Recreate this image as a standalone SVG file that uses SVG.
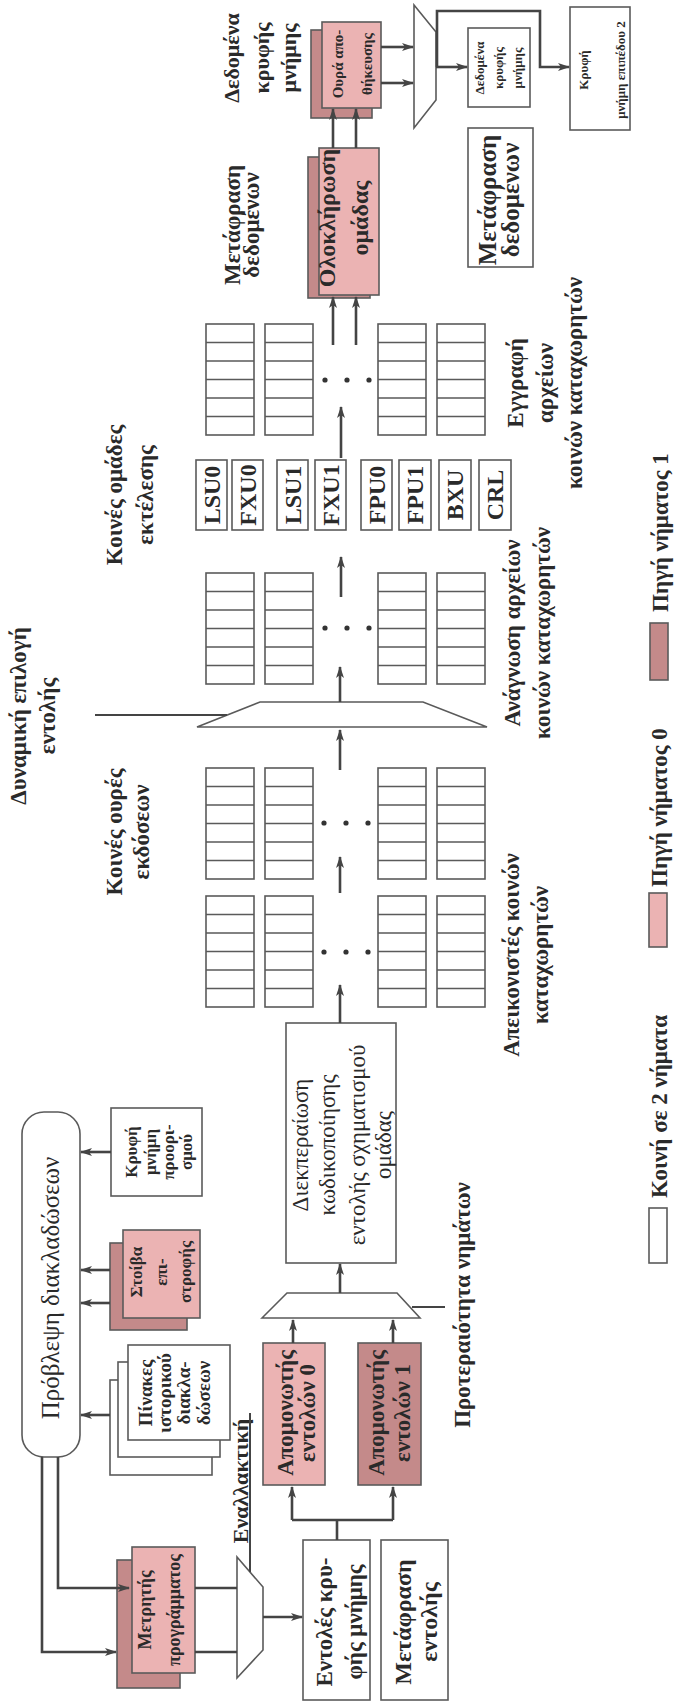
<svg xmlns="http://www.w3.org/2000/svg" xmlns:xlink="http://www.w3.org/1999/xlink" width="675" height="1704" viewBox="0 0 675 1704">
<style>
.box{fill:#ffffff;stroke:#5a5a5a;stroke-width:1.6}
.p0{fill:#ebb3b3;stroke:#5a5a5a;stroke-width:1.6}
.p1{fill:#c48a8a;stroke:#5a5a5a;stroke-width:1.6}
.mux{fill:#ffffff;stroke:#5a5a5a;stroke-width:1.6}
.ln{fill:none;stroke:#444;stroke-width:2}
.tk{fill:none;stroke:#444;stroke-width:2.6}
.ar{marker-end:url(#ah)}
.t{font-family:"Liberation Serif","DejaVu Serif",serif;font-weight:bold;fill:#2a2a2a;text-anchor:middle}
.n{font-weight:normal}
.st{text-anchor:start}
.dot{fill:#333}
</style>
<defs>
<marker id="ah" viewBox="0 0 12 8" refX="11" refY="4" markerWidth="12" markerHeight="8" orient="auto" markerUnits="userSpaceOnUse"><path d="M0,0 L12,4 L0,8 L3,4 z" fill="#444"/></marker>
<g id="rc"><rect x="0" y="0" width="48" height="111" class="box"/><path d="M0,18.5H48M0,37H48M0,55.5H48M0,74H48M0,92.5H48" fill="none" stroke="#5a5a5a" stroke-width="1.4"/></g>
</defs>
<rect width="675" height="1704" fill="#ffffff"/>

<!-- labels -->
<g id="lbl-dcache"><text class="t" font-size="22" transform="translate(232,58) rotate(-90)"><tspan x="0" y="7">Δεδομένα</tspan><tspan x="0" y="37">κρυφής</tspan><tspan x="0" y="64">μνήμης</tspan></text></g>
<g id="lbl-dtrans"><text class="t" font-size="23" transform="translate(233,225) rotate(-90)"><tspan x="0" y="7">Μετάφραση</tspan><tspan x="0" y="26">δεδομένων</tspan></text></g>
<g id="lbl-dyn"><text class="t" font-size="23" transform="translate(19,716) rotate(-90)"><tspan x="0" y="7">Δυναμική επιλογή</tspan><tspan x="0" y="36">εντολής</tspan></text></g>
<g id="lbl-iq"><text class="t" font-size="23" transform="translate(115,832) rotate(-90)"><tspan x="0" y="7">Κοινές ουρές</tspan><tspan x="0" y="34">εκδόσεων</tspan></text></g>
<g id="lbl-eu"><text class="t" font-size="23" transform="translate(115,495) rotate(-90)"><tspan x="0" y="7">Κοινές ομάδες</tspan><tspan x="0" y="38">εκτέλεσης</tspan></text></g>
<g id="lbl-read"><text class="t" font-size="23" transform="translate(513,633) rotate(-90)"><tspan x="0" y="7">Ανάγνωση αρχείων</tspan><tspan x="0" y="37">κοινών καταχωρητών</tspan></text></g>
<g id="lbl-write"><text class="t" font-size="23" transform="translate(516,383) rotate(-90)"><tspan x="0" y="7">Εγγραφή</tspan><tspan x="0" y="37">αρχείων</tspan><tspan x="0" y="66">κοινών καταχωρητών</tspan></text></g>
<g id="lbl-map"><text class="t" font-size="23" transform="translate(512,955) rotate(-90)"><tspan x="0" y="7">Απεικονιστές κοινών</tspan><tspan x="0" y="36">καταχωρητών</tspan></text></g>
<g id="lbl-prio"><text class="t" font-size="23" transform="translate(463,1305) rotate(-90)"><tspan x="0" y="7">Προτεραιότητα νημάτων</tspan></text></g>
<g id="lbl-alt"><text class="t" font-size="22" transform="translate(241,1481) rotate(-90)"><tspan x="0" y="7">Εναλλακτική</tspan></text></g>

<!-- legend -->
<g id="legend">
<rect x="650" y="623" width="18" height="57" class="p1"/>
<text class="t st" font-size="23" transform="translate(661,612) rotate(-90)" y="7">Πηγή νήματος 1</text>
<rect x="649" y="893" width="18" height="54" class="p0"/>
<text class="t st" font-size="23" transform="translate(660,887) rotate(-90)" y="7">Πηγή νήματος 0</text>
<rect x="649" y="1208" width="18" height="55" class="box"/>
<text class="t st" font-size="23" transform="translate(660,1198) rotate(-90)" y="7">Κοινή σε 2 νήματα</text>
</g>

<!-- data side -->
<g id="storeq">
<rect x="311" y="30" width="61" height="88" class="p1"/>
<rect x="322" y="22" width="59" height="86" class="p0"/>
<text class="t" font-size="15" transform="translate(338,64) rotate(-90)"><tspan x="0" y="4.5">Ουρά απο-</tspan><tspan x="0" y="33.5">θήκευσης</tspan></text>
</g>
<g id="dmux"><polygon points="414,5 436,32 436,100 414,128" class="mux"/></g>
<g id="dcache">
<rect x="468" y="28" width="62" height="79" class="box"/>
<text class="t" font-size="13" transform="translate(480,68) rotate(-90)"><tspan x="0" y="4">Δεδομένα</tspan><tspan x="0" y="23">κρυφής</tspan><tspan x="0" y="42">μνήμης</tspan></text>
</g>
<g id="l2">
<rect x="570" y="7" width="60" height="123" class="box"/>
<text class="t" font-size="13" transform="translate(584,70) rotate(-90)"><tspan x="0" y="4">Κρυφή</tspan><tspan x="0" y="41">μνήμη επιπέδου 2</tspan></text>
</g>
<g id="dtrans">
<rect x="468" y="128" width="65" height="139" class="box"/>
<text class="t" font-size="25" transform="translate(488,200) rotate(-90)"><tspan x="0" y="7.5">Μετάφραση</tspan><tspan x="0" y="30.5">δεδομένων</tspan></text>
</g>
<g id="gcomp">
<rect x="308" y="157" width="62" height="141" class="p1"/>
<rect x="319" y="148" width="60" height="147" class="p0"/>
<text class="t" font-size="24" transform="translate(328,218) rotate(-90)"><tspan x="0" y="7">Ολοκλήρωση</tspan><tspan x="0" y="40">ομάδας</tspan></text>
</g>

<!-- register files -->
<g id="reg-write"><use xlink:href="#rc" x="206" y="324"/><use xlink:href="#rc" x="265" y="324"/><use xlink:href="#rc" x="378" y="324"/><use xlink:href="#rc" x="437" y="324"/>
<circle cx="325" cy="380" r="2.6" class="dot"/><circle cx="347" cy="380" r="2.6" class="dot"/><circle cx="369" cy="380" r="2.6" class="dot"/></g>
<g id="reg-read"><use xlink:href="#rc" x="206" y="573"/><use xlink:href="#rc" x="265" y="573"/><use xlink:href="#rc" x="378" y="573"/><use xlink:href="#rc" x="437" y="573"/>
<circle cx="325" cy="628" r="2.6" class="dot"/><circle cx="347" cy="628" r="2.6" class="dot"/><circle cx="369" cy="628" r="2.6" class="dot"/></g>
<g id="issue-q"><use xlink:href="#rc" x="206" y="768"/><use xlink:href="#rc" x="265" y="768"/><use xlink:href="#rc" x="378" y="768"/><use xlink:href="#rc" x="437" y="768"/>
<circle cx="324" cy="823" r="2.6" class="dot"/><circle cx="346" cy="823" r="2.6" class="dot"/><circle cx="368" cy="823" r="2.6" class="dot"/></g>
<g id="mappers"><use xlink:href="#rc" x="206" y="896"/><use xlink:href="#rc" x="265" y="896"/><use xlink:href="#rc" x="378" y="896"/><use xlink:href="#rc" x="437" y="896"/>
<circle cx="324" cy="952" r="2.6" class="dot"/><circle cx="346" cy="952" r="2.6" class="dot"/><circle cx="368" cy="952" r="2.6" class="dot"/></g>

<!-- execution units -->
<g id="eu">
<rect x="196" y="460" width="31" height="70" class="box"/><text class="t" font-size="24" transform="translate(211.5,495) rotate(-90)" y="8">LSU0</text>
<rect x="232" y="460" width="31" height="70" class="box"/><text class="t" font-size="24" transform="translate(247.5,495) rotate(-90)" y="8">FXU0</text>
<rect x="277" y="460" width="31" height="70" class="box"/><text class="t" font-size="24" transform="translate(292.5,495) rotate(-90)" y="8">LSU1</text>
<rect x="315" y="460" width="31" height="70" class="box"/><text class="t" font-size="24" transform="translate(330.5,495) rotate(-90)" y="8">FXU1</text>
<rect x="361" y="460" width="31" height="70" class="box"/><text class="t" font-size="24" transform="translate(376.5,495) rotate(-90)" y="8">FPU0</text>
<rect x="399" y="460" width="32" height="70" class="box"/><text class="t" font-size="24" transform="translate(415,495) rotate(-90)" y="8">FPU1</text>
<rect x="439" y="460" width="32" height="70" class="box"/><text class="t" font-size="24" transform="translate(455,495) rotate(-90)" y="8">BXU</text>
<rect x="479" y="460" width="32" height="70" class="box"/><text class="t" font-size="24" transform="translate(495,495) rotate(-90)" y="8">CRL</text>
</g>

<g id="dynmux"><polygon points="197,727 260,702 423,702 487,727" class="mux"/></g>

<g id="gform">
<rect x="286" y="1023" width="110" height="240" class="box"/>
<text class="t n" font-size="23" transform="translate(301,1145) rotate(-90)"><tspan x="0" y="7">Διεκπεραίωση</tspan><tspan x="0" y="34">κωδικοποίησης</tspan><tspan x="0" y="64">εντολής σχηματισμού</tspan><tspan x="0" y="90">ομάδας</tspan></text>
</g>
<g id="priomux"><polygon points="262,1318 287,1293 397,1293 420,1318" class="mux"/></g>

<g id="buf0">
<rect x="263" y="1343" width="62" height="142" class="p0"/>
<text class="t" font-size="23" transform="translate(286,1413) rotate(-90)"><tspan x="0" y="7">Απομονωτής</tspan><tspan x="0" y="29">εντολών 0</tspan></text>
</g>
<g id="buf1">
<rect x="358" y="1343" width="63" height="142" class="p1"/>
<text class="t" font-size="23" transform="translate(377,1413) rotate(-90)"><tspan x="0" y="7">Απομονωτής</tspan><tspan x="0" y="33">εντολών 1</tspan></text>
</g>
<g id="icache">
<rect x="303" y="1540" width="67" height="160" class="box"/>
<text class="t" font-size="23" transform="translate(325,1622) rotate(-90)"><tspan x="0" y="7">Εντολές κρυ-</tspan><tspan x="0" y="37">φής μνήμης</tspan></text>
</g>
<g id="itrans">
<rect x="381" y="1540" width="67" height="160" class="box"/>
<text class="t" font-size="24" transform="translate(404,1622) rotate(-90)"><tspan x="0" y="7">Μετάφραση</tspan><tspan x="0" y="33">εντολής</tspan></text>
</g>
<g id="altmux"><polygon points="237,1557 263,1587 263,1650 237,1678" class="mux"/></g>
<g id="pc">
<rect x="117" y="1560" width="63" height="128" class="p1"/>
<rect x="132" y="1547" width="63" height="126" class="p0"/>
<text class="t" font-size="18" transform="translate(146,1610) rotate(-90)"><tspan x="0" y="5">Μετρητής</tspan><tspan x="0" y="34">προγράμματος</tspan></text>
</g>
<g id="bpred">
<rect x="22" y="1112" width="58" height="345" rx="22" class="box"/>
<text class="t n" font-size="25" transform="translate(51,1288) rotate(-90)" y="8">Πρόβλεψη διακλαδώσεων</text>
</g>
<g id="tcache">
<rect x="111" y="1108" width="91" height="88" class="box"/>
<text class="t" font-size="17" transform="translate(132,1152) rotate(-90)"><tspan x="0" y="5">Κρυφή</tspan><tspan x="0" y="24">μνήμη</tspan><tspan x="0" y="42">προορι-</tspan><tspan x="0" y="60">σμού</tspan></text>
</g>
<g id="rstack">
<rect x="110" y="1243" width="77" height="87" class="p1"/>
<rect x="123" y="1230" width="77" height="88" class="p0"/>
<text class="t" font-size="17" transform="translate(137,1272) rotate(-90)"><tspan x="0" y="5">Στοίβα</tspan><tspan x="0" y="30">επι-</tspan><tspan x="0" y="54">στροφής</tspan></text>
</g>
<g id="bht">
<rect x="110" y="1380" width="102" height="95" class="box"/>
<rect x="118" y="1362" width="102" height="95" class="box"/>
<rect x="128" y="1345" width="102" height="95" class="box"/>
<text class="t" font-size="19" transform="translate(146,1393) rotate(-90)"><tspan x="0" y="6">Πίνακες</tspan><tspan x="0" y="25">ιστορικού</tspan><tspan x="0" y="44">διακλα-</tspan><tspan x="0" y="64">δώσεων</tspan></text>
</g>

<!-- connectors -->
<g id="connectors">
<path class="tk ar" d="M381,47H413"/>
<path class="tk ar" d="M381,83H413"/>
<path class="tk ar" d="M436,67H467"/>
<path class="tk ar" d="M437,67V11H540V67H569"/>
<path class="tk ar" d="M333,148V109"/>
<path class="tk ar" d="M356,148V109"/>
<path class="tk ar" d="M333,345V297"/>
<path class="tk ar" d="M356,345V297"/>
<path class="tk ar" d="M341,458V407"/>
<path class="tk ar" d="M341,597V557"/>
<path class="tk ar" d="M340,702V667"/>
<path class="tk ar" d="M340,770V730"/>
<path class="tk ar" d="M340,893V857"/>
<path class="tk ar" d="M340,1023V985"/>
<path class="ln" d="M95,715H227"/>
<path class="tk ar" d="M340,1293V1264"/>
<path class="ln" d="M412,1307H445"/>
<path class="tk ar" d="M293,1343V1320"/>
<path class="tk ar" d="M393,1343V1320"/>
<path class="tk" d="M337,1540V1520M292,1520H393"/>
<path class="tk ar" d="M292,1520V1487"/>
<path class="tk ar" d="M393,1520V1487"/>
<path class="tk ar" d="M263,1617H302"/>
<path class="tk" d="M195,1588H237M195,1652H237"/>
<path class="ln" d="M250,1413V1572"/>
<path class="tk ar" d="M58,1457V1588H129"/>
<path class="tk ar" d="M42,1457V1652H116"/>
<path class="tk ar" d="M111,1152H81"/>
<path class="tk ar" d="M110,1270H81"/>
<path class="tk ar" d="M110,1303H81"/>
<path class="tk ar" d="M110,1415H81"/>
</g>
</svg>
